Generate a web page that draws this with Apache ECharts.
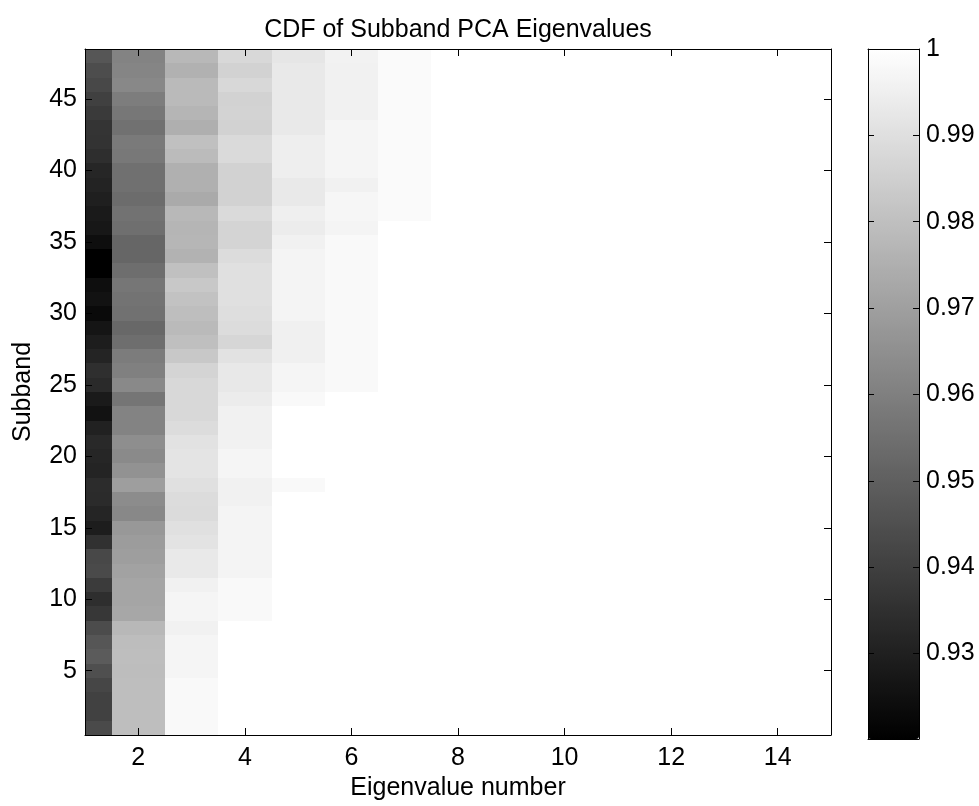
<!DOCTYPE html>
<html>
<head>
<meta charset="utf-8">
<title>CDF of Subband PCA Eigenvalues</title>
<script src="https://cdn.jsdelivr.net/npm/echarts@6/dist/echarts.min.js"></script>
<style>
  html, body { margin: 0; padding: 0; background: #ffffff; }
  #chart { width: 979px; height: 806px; }
</style>
</head>
<body>
<div id="chart"></div>
<script>
// Cumulative share of variance captured by the first k PCA eigenvalues,
// one array per eigenvalue number, each listing subbands 1..48.
const eig1 = [0.9433, 0.9405, 0.9405, 0.9420, 0.9449, 0.9486, 0.9470, 0.9439, 0.9373, 0.9345, 0.9386, 0.9433,
              0.9427, 0.9355, 0.9292, 0.9317, 0.9336, 0.9339, 0.9314, 0.9320, 0.9329, 0.9304, 0.9257, 0.9282,
              0.9333, 0.9348, 0.9314, 0.9292, 0.9267, 0.9232, 0.9257, 0.9245, 0.9201, 0.9201, 0.9245, 0.9273,
              0.9282, 0.9298, 0.9311, 0.9320, 0.9345, 0.9361, 0.9364, 0.9383, 0.9402, 0.9427, 0.9442, 0.9470];
const eig2 = [0.9796, 0.9796, 0.9796, 0.9796, 0.9793, 0.9796, 0.9793, 0.9778, 0.9724, 0.9718, 0.9718, 0.9709,
              0.9696, 0.9690, 0.9677, 0.9627, 0.9640, 0.9696, 0.9658, 0.9633, 0.9646, 0.9611, 0.9611, 0.9568,
              0.9630, 0.9602, 0.9590, 0.9546, 0.9527, 0.9555, 0.9561, 0.9571, 0.9546, 0.9521, 0.9521, 0.9549,
              0.9558, 0.9539, 0.9552, 0.9552, 0.9577, 0.9583, 0.9555, 0.9574, 0.9593, 0.9627, 0.9618, 0.9611];
const eig3 = [0.9981, 0.9981, 0.9981, 0.9981, 0.9969, 0.9969, 0.9969, 0.9956, 0.9969, 0.9969, 0.9956, 0.9931,
              0.9931, 0.9912, 0.9903, 0.9887, 0.9890, 0.9903, 0.9915, 0.9915, 0.9909, 0.9890, 0.9878, 0.9878,
              0.9878, 0.9865, 0.9828, 0.9799, 0.9784, 0.9796, 0.9809, 0.9828, 0.9803, 0.9759, 0.9771, 0.9768,
              0.9778, 0.9734, 0.9752, 0.9752, 0.9787, 0.9803, 0.9749, 0.9768, 0.9784, 0.9784, 0.9756, 0.9778];
const eig4 = [1, 1, 1, 1, 1, 1, 1, 1, 0.9981, 0.9981, 0.9981, 0.9966,
              0.9966, 0.9966, 0.9966, 0.9966, 0.9956, 0.9956, 0.9969, 0.9969, 0.9956, 0.9956, 0.9956, 0.9940,
              0.9928, 0.9928, 0.9909, 0.9872, 0.9890, 0.9897, 0.9903, 0.9903, 0.9903, 0.9890, 0.9865, 0.9865,
              0.9884, 0.9859, 0.9859, 0.9859, 0.9884, 0.9884, 0.9859, 0.9862, 0.9859, 0.9878, 0.9859, 0.9878];
const eig5 = [1, 1, 1, 1, 1, 1, 1, 1, 1, 1, 1, 1,
              1, 1, 1, 1, 1, 0.9981, 1, 1, 1, 1, 1, 0.9981,
              0.9969, 0.9969, 0.9953, 0.9953, 0.9953, 0.9966, 0.9966, 0.9966, 0.9966, 0.9966, 0.9956, 0.9940,
              0.9950, 0.9931, 0.9931, 0.9947, 0.9947, 0.9947, 0.9931, 0.9931, 0.9931, 0.9931, 0.9931, 0.9922];
const eig6 = [1, 1, 1, 1, 1, 1, 1, 1, 1, 1, 1, 1,
              1, 1, 1, 1, 1, 1, 1, 1, 1, 1, 1, 1,
              0.9981, 0.9981, 0.9981, 0.9981, 0.9981, 0.9981, 0.9981, 0.9981, 0.9981, 0.9981, 0.9981, 0.9966,
              0.9972, 0.9972, 0.9956, 0.9969, 0.9969, 0.9969, 0.9969, 0.9956, 0.9956, 0.9956, 0.9956, 0.9959];
const eig7 = [1, 1, 1, 1, 1, 1, 1, 1, 1, 1, 1, 1,
              1, 1, 1, 1, 1, 1, 1, 1, 1, 1, 1, 1,
              1, 1, 1, 1, 1, 1, 1, 1, 1, 1, 1, 1,
              0.9984, 0.9984, 0.9984, 0.9984, 0.9984, 0.9984, 0.9984, 0.9984, 0.9984, 0.9984, 0.9984, 0.9984];
const eig8 = [1, 1, 1, 1, 1, 1, 1, 1, 1, 1, 1, 1, 1, 1, 1, 1, 1, 1, 1, 1, 1, 1, 1, 1,
              1, 1, 1, 1, 1, 1, 1, 1, 1, 1, 1, 1, 1, 1, 1, 1, 1, 1, 1, 1, 1, 1, 1, 1];
const eig9 = [1, 1, 1, 1, 1, 1, 1, 1, 1, 1, 1, 1, 1, 1, 1, 1, 1, 1, 1, 1, 1, 1, 1, 1,
              1, 1, 1, 1, 1, 1, 1, 1, 1, 1, 1, 1, 1, 1, 1, 1, 1, 1, 1, 1, 1, 1, 1, 1];
const eig10 = [1, 1, 1, 1, 1, 1, 1, 1, 1, 1, 1, 1, 1, 1, 1, 1, 1, 1, 1, 1, 1, 1, 1, 1,
               1, 1, 1, 1, 1, 1, 1, 1, 1, 1, 1, 1, 1, 1, 1, 1, 1, 1, 1, 1, 1, 1, 1, 1];
const eig11 = [1, 1, 1, 1, 1, 1, 1, 1, 1, 1, 1, 1, 1, 1, 1, 1, 1, 1, 1, 1, 1, 1, 1, 1,
               1, 1, 1, 1, 1, 1, 1, 1, 1, 1, 1, 1, 1, 1, 1, 1, 1, 1, 1, 1, 1, 1, 1, 1];
const eig12 = [1, 1, 1, 1, 1, 1, 1, 1, 1, 1, 1, 1, 1, 1, 1, 1, 1, 1, 1, 1, 1, 1, 1, 1,
               1, 1, 1, 1, 1, 1, 1, 1, 1, 1, 1, 1, 1, 1, 1, 1, 1, 1, 1, 1, 1, 1, 1, 1];
const eig13 = [1, 1, 1, 1, 1, 1, 1, 1, 1, 1, 1, 1, 1, 1, 1, 1, 1, 1, 1, 1, 1, 1, 1, 1,
               1, 1, 1, 1, 1, 1, 1, 1, 1, 1, 1, 1, 1, 1, 1, 1, 1, 1, 1, 1, 1, 1, 1, 1];
const eig14 = [1, 1, 1, 1, 1, 1, 1, 1, 1, 1, 1, 1, 1, 1, 1, 1, 1, 1, 1, 1, 1, 1, 1, 1,
               1, 1, 1, 1, 1, 1, 1, 1, 1, 1, 1, 1, 1, 1, 1, 1, 1, 1, 1, 1, 1, 1, 1, 1];
const eig15 = [1, 1, 1, 1, 1, 1, 1, 1, 1, 1, 1, 1, 1, 1, 1, 1, 1, 1, 1, 1, 1, 1, 1, 1,
               1, 1, 1, 1, 1, 1, 1, 1, 1, 1, 1, 1, 1, 1, 1, 1, 1, 1, 1, 1, 1, 1, 1, 1];

// Tick positions and colour-scale limits
const xTicks = [2, 4, 6, 8, 10, 12, 14];
const yTicks = [5, 10, 15, 20, 25, 30, 35, 40, 45];
const colorTicks = [0.93, 0.94, 0.95, 0.96, 0.97, 0.98, 0.99, 1];
const colorMin = 0.9201;
const colorMax = 1;

const columns = [eig1, eig2, eig3, eig4, eig5, eig6, eig7, eig8,
                 eig9, eig10, eig11, eig12, eig13, eig14, eig15];

// [eigenvalue number, subband, cumulative fraction]
const cells = [];
columns.forEach(function (col, ci) {
  col.forEach(function (v, si) {
    cells.push([ci + 1, si + 1, v]);
  });
});

const FONT = 'Liberation Sans, Arial, Helvetica, sans-serif';
const FS = 25;

function renderCell(params, api) {
  const x = api.value(0);
  const y = api.value(1);
  const a = api.coord([x - 0.5, y - 0.5]);
  const b = api.coord([x + 0.5, y + 0.5]);
  const x0 = Math.round(Math.min(a[0], b[0]));
  const x1 = Math.round(Math.max(a[0], b[0]));
  const y0 = Math.round(Math.min(a[1], b[1]));
  const y1 = Math.round(Math.max(a[1], b[1]));
  const cs = params.coordSys;
  const rect = echarts.graphic.clipRectByRect(
    { x: x0, y: y0, width: x1 - x0, height: y1 - y0 },
    { x: cs.x, y: cs.y, width: cs.width, height: cs.height }
  );
  if (!rect) return;
  return { type: 'rect', shape: rect, style: { fill: api.visual('color') } };
}

const lineStyle = { color: '#000', width: 1 };
const tickStyle = { color: '#000', width: 1 };

function boxAxis(extra) {
  return Object.assign({
    type: 'value',
    z: 5,
    splitLine: { show: false },
    axisLine: { show: true, onZero: false, lineStyle: lineStyle },
    axisTick: { show: false },
    axisLabel: { show: false }
  }, extra);
}

const chart = echarts.init(document.getElementById('chart'), null, { renderer: 'canvas' });

chart.setOption({
  animation: false,
  backgroundColor: '#ffffff',
  textStyle: { fontFamily: FONT },
  title: {
    text: 'CDF of Subband PCA Eigenvalues',
    left: 458,
    top: 18,
    textAlign: 'center',
    padding: 0,
    textStyle: { fontFamily: FONT, fontSize: FS, fontWeight: 'normal', color: '#000' }
  },
  grid: [
    { left: 85, top: 49, width: 746, height: 690 },
    { left: 868, top: 49, width: 51, height: 690 }
  ],
  xAxis: [
    boxAxis({
      gridIndex: 0, position: 'bottom', min: 1, max: 15,
      name: 'Eigenvalue number', nameLocation: 'middle', nameGap: 41,
      nameTextStyle: { fontFamily: FONT, fontSize: FS, color: '#000' },
      axisTick: { show: true, inside: true, length: 7, lineStyle: tickStyle, customValues: xTicks },
      axisLabel: { show: true, margin: 11, fontFamily: FONT, fontSize: FS, color: '#000', customValues: xTicks }
    }),
    boxAxis({
      gridIndex: 0, position: 'top', min: 1, max: 15,
      axisTick: { show: true, inside: true, length: 7, lineStyle: tickStyle, customValues: xTicks }
    }),
    boxAxis({ gridIndex: 1, position: 'bottom', min: 0, max: 1, z: 10 }),
    boxAxis({ gridIndex: 1, position: 'top', min: 0, max: 1, z: 10 })
  ],
  yAxis: [
    boxAxis({
      gridIndex: 0, position: 'left', min: 0.5, max: 48.5,
      name: 'Subband', nameLocation: 'middle', nameGap: 49,
      nameTextStyle: { fontFamily: FONT, fontSize: FS, color: '#000' },
      axisTick: { show: true, inside: true, length: 7, lineStyle: tickStyle, customValues: yTicks },
      axisLabel: { show: true, margin: 8, fontFamily: FONT, fontSize: FS, color: '#000', customValues: yTicks }
    }),
    boxAxis({
      gridIndex: 0, position: 'right', min: 0.5, max: 48.5,
      axisTick: { show: true, inside: true, length: 7, lineStyle: tickStyle, customValues: yTicks }
    }),
    boxAxis({
      gridIndex: 1, position: 'left', min: colorMin, max: colorMax, z: 10,
      axisTick: { show: true, inside: true, length: 6, lineStyle: tickStyle, customValues: colorTicks }
    }),
    boxAxis({
      gridIndex: 1, position: 'right', min: colorMin, max: colorMax, z: 10,
      axisTick: { show: true, inside: true, length: 6, lineStyle: tickStyle, customValues: colorTicks },
      axisLabel: {
        show: true, margin: 7, fontFamily: FONT, fontSize: FS, color: '#000',
        customValues: colorTicks,
        formatter: function (v) { return v === 1 ? '1' : v.toFixed(2); }
      }
    })
  ],
  visualMap: {
    type: 'continuous',
    min: colorMin,
    max: colorMax,
    dimension: 2,
    seriesIndex: 0,
    calculable: false,
    hoverLink: false,
    inRange: { color: ['#000000', '#ffffff'] },
    left: 868,
    top: 49,
    itemWidth: 51,
    itemHeight: 690,
    padding: 0,
    z: 1
  },
  series: [{
    type: 'custom',
    xAxisIndex: 0,
    yAxisIndex: 0,
    renderItem: renderCell,
    encode: { x: 0, y: 1 },
    data: cells,
    z: 2
  }]
});
</script>
</body>
</html>
